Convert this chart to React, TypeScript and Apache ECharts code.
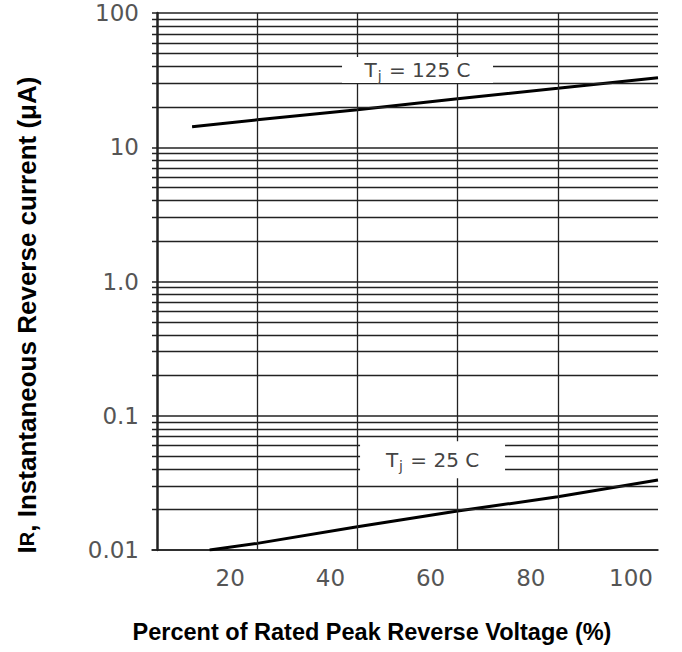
import { useEffect, useRef } from 'react';
import * as echarts from 'echarts';

// Tj = 125 C curve (percent of rated peak reverse voltage vs reverse current, µA)
const voltage125 = [7, 20, 40, 60, 80, 100];
const current125 = [14.2, 16, 19, 23, 27.5, 33];
// Tj = 25 C curve
const voltage25 = [10.5, 20, 40, 60, 80, 100];
const current25 = [0.01, 0.0112, 0.0149, 0.0195, 0.0249, 0.0332];

const xTickValues = [20, 40, 60, 80, 100];
const yTickValues = [0.01, 0.1, 1, 10, 100];
const yTickLabels = ['0.01', '0.1', '1.0', '10', '100'];
const verticalGrid = [20, 40, 60, 80];
const minorGrid = [
  0.02, 0.03, 0.04, 0.05, 0.06, 0.07, 0.08, 0.09,
  0.2, 0.3, 0.4, 0.5, 0.6, 0.7, 0.8, 0.9,
  2, 3, 4, 5, 6, 7, 8, 9,
  20, 30, 40, 50, 60, 70, 80, 90,
];
const annotationX = [52, 55];
const annotationY = [37.6, 0.047];
const annotationTemp = ['125', '25'];

const xTitle = 'Percent of Rated Peak Reverse Voltage (%)';

export default function App() {
  const ref = useRef<HTMLDivElement>(null);
  useEffect(() => {
    if (!ref.current) return;
    document.body.style.margin = '0';
    const chart = echarts.init(ref.current, undefined, { renderer: 'svg' });
    const gridColor = '#222';
    const tickFont = { fontFamily: 'DejaVu Sans', fontSize: 23, color: '#555' };
    chart.setOption({
      animation: false,
      backgroundColor: '#fff',
      grid: { left: 152, right: 24, top: 13, bottom: 102, containLabel: false },
      xAxis: {
        type: 'value',
        min: -1,
        max: 100,
        splitNumber: 5,
        axisLine: { show: true, onZero: false, lineStyle: { color: gridColor, width: 1.6 } },
        axisTick: { show: false },
        splitLine: { show: false },
        axisLabel: {
          ...tickFont,
          margin: 16,
          padding: [0, 54, 0, 0],
          formatter: (v: number) => (xTickValues.includes(v) ? String(v) : ''),
        },
      },
      yAxis: {
        type: 'log',
        logBase: 10,
        min: 0.01,
        max: 100,
        axisLine: { show: true, lineStyle: { color: gridColor, width: 2.5 } },
        axisTick: { show: false },
        splitLine: { show: true, lineStyle: { color: gridColor, width: 1.6 } },
        axisLabel: {
          ...tickFont,
          margin: 13,
          padding: [6, 0, 0, 0],
          formatter: (v: number) => {
            const i = yTickValues.findIndex((t) => Math.abs(t - v) / t < 1e-6);
            return i >= 0 ? yTickLabels[i] : '';
          },
        },
      },
      graphic: [
        {
          type: 'text',
          x: 372,
          y: 632,
          style: {
            text: xTitle,
            font: 'bold 23.5px "Liberation Sans"',
            fill: '#000',
            textAlign: 'center',
            textVerticalAlign: 'middle',
          },
        },
        {
          type: 'text',
          x: 27,
          y: 315,
          rotation: Math.PI / 2,
          style: {
            text: '{a|I}{b|R}{a|, Instantaneous Reverse current (μA)}',
            fill: '#000',
            textAlign: 'center',
            textVerticalAlign: 'middle',
            rich: {
              a: { fontFamily: 'Liberation Sans', fontWeight: 'bold', fontSize: 26, fill: '#000' },
              b: { fontFamily: 'Liberation Sans', fontWeight: 'bold', fontSize: 20, fill: '#000' },
            },
          },
        },
      ],
      series: [
        {
          type: 'line',
          name: 'Tj = 125 C',
          data: voltage125.map((x, i) => [x, current125[i]]),
          showSymbol: false,
          lineStyle: { color: '#000', width: 3 },
          z: 4,
          markLine: {
            silent: true,
            symbol: ['none', 'none'],
            label: { show: false },
            lineStyle: { color: gridColor, width: 1.3, type: 'solid' },
            data: [
              ...verticalGrid.map((v) => ({ xAxis: v })),
              ...minorGrid.map((v) => ({ yAxis: v })),
            ],
          },
        },
        {
          type: 'line',
          name: 'Tj = 25 C',
          data: voltage25.map((x, i) => [x, current25[i]]),
          showSymbol: false,
          lineStyle: { color: '#000', width: 3 },
          z: 4,
        },
        {
          type: 'scatter',
          z: 10,
          silent: true,
          data: annotationX.map((x, i) => [x, annotationY[i]]),
          symbol: 'rect',
          symbolSize: (_v: any, p: any) => (p.dataIndex === 0 ? [151, 26] : [145, 37]),
          itemStyle: { color: '#fff', opacity: 1 },
          label: {
            show: true,
            position: 'inside',
            formatter: (p: any) => `{t|T}{s|j}{t| = ${annotationTemp[p.dataIndex]} C}`,
            rich: {
              t: { fontFamily: 'DejaVu Sans', fontSize: 20, color: '#444' },
              s: { fontFamily: 'DejaVu Sans', fontSize: 14, color: '#444', padding: [12, 1, 0, 1] },
            },
          },
        },
      ],
    });
    return () => chart.dispose();
  }, []);
  return <div ref={ref} style={{ width: 682, height: 652 }} />;
}
